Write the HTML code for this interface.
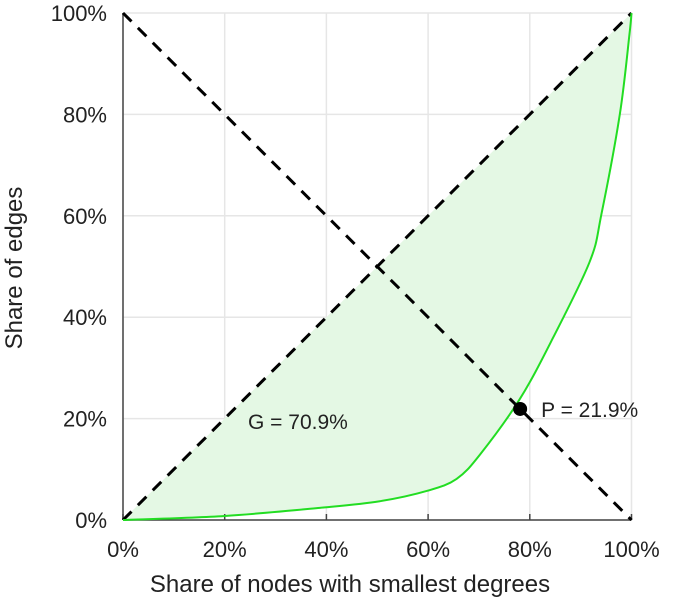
<!DOCTYPE html>
<html><head><meta charset="utf-8"><style>
body{margin:0;background:#fff;}
svg text{font-family:"Liberation Sans",sans-serif;fill:#222;}
</style></head><body>
<svg width="682" height="600">
<g id="grid"></g>
<path id="area" fill="#e4f8e4" stroke="none"/>
<g id="axes"></g>
<line id="eq" stroke="#000" stroke-width="3" stroke-dasharray="12,9"/>
<line id="anti" stroke="#000" stroke-width="3" stroke-dasharray="12,9"/>
<path id="curve" fill="none" stroke="#22dd22" stroke-width="2"/>
<circle id="pt" r="7" fill="#000"/>
<text id="glab" font-size="21">G = 70.9%</text>
<text id="plab" font-size="21">P = 21.9%</text>
<text x="350" y="592" text-anchor="middle" font-size="24">Share of nodes with smallest degrees</text>
<text transform="translate(22,268) rotate(-90)" text-anchor="middle" font-size="24">Share of edges</text>
</svg>
<script>
const curveX=[0,20,38.7,50.5,60,65.6,70.2,78,84.6,91.8,94.1,97.7,99.6,100];
const curveY=[0,0.8,2.4,3.7,5.8,8.1,12.9,23.8,36,51,60.4,80,95.8,100];
const ticks=[0,20,40,60,80,100];
const tickLabels=["0%","20%","40%","60%","80%","100%"];
const pointX=[78.1];const pointY=[21.9];
const gini=[70.9];
const X=v=>123+v*5.085, Y=v=>520-v*5.07;
const ns="http://www.w3.org/2000/svg";
const grid=document.getElementById('grid'),axes=document.getElementById('axes');
function mk(tag,a,p){const e=document.createElementNS(ns,tag);for(const k in a)e.setAttribute(k,a[k]);p.appendChild(e);return e;}
ticks.forEach((t,i)=>{
 let g=mk('line',{x1:X(t),x2:X(t),y1:Y(0),y2:Y(100),stroke:'#e6e6e6','stroke-width':1.5},grid);
 
 
 let h=mk('line',{x1:X(0),x2:X(100),y1:Y(t),y2:Y(t),stroke:'#e6e6e6','stroke-width':1.5},grid);
 
 
 let tx=mk('text',{x:X(t),y:557,'text-anchor':'middle','font-size':22},axes);tx.textContent=tickLabels[i];
 
 
 let ty=mk('text',{x:107,y:Y(t)+8,'text-anchor':'end','font-size':22},axes);ty.textContent=tickLabels[i];
 
 
 let tk=mk('line',{x1:X(t),x2:X(t),y1:Y(0),y2:Y(0)-6,stroke:'#444','stroke-width':1.5},axes);
 
 
});
let xa=mk('line',{x1:X(0),x2:X(100),y1:Y(0),y2:Y(0),stroke:'#444','stroke-width':1.5},axes);


let ya=mk('line',{x1:X(0),x2:X(0),y1:Y(0),y2:Y(100),stroke:'#444','stroke-width':1.5},axes);


const P=curveX.map((x,i)=>[X(x),Y(curveY[i])]);
let d='M'+P[0][0]+','+P[0][1];
for(let i=0;i<P.length-1;i++){
 const p0=P[Math.max(i-1,0)],p1=P[i],p2=P[i+1],p3=P[Math.min(i+2,P.length-1)];
 const c1=[p1[0]+(p2[0]-p0[0])/6,p1[1]+(p2[1]-p0[1])/6];
 const c2=[p2[0]-(p3[0]-p1[0])/6,p2[1]-(p3[1]-p1[1])/6];
 d+='C'+c1+' '+c2+' '+p2;
}
document.getElementById('curve').setAttribute('d',d);
document.getElementById('area').setAttribute('d',d+'L'+X(0)+','+Y(0)+'Z');
const eq=document.getElementById('eq');
eq.setAttribute('x1',X(0));eq.setAttribute('y1',Y(0));eq.setAttribute('x2',X(100));eq.setAttribute('y2',Y(100));
const an=document.getElementById('anti');
an.setAttribute('x1',X(0));an.setAttribute('y1',Y(100));an.setAttribute('x2',X(100));an.setAttribute('y2',Y(0));
const pt=document.getElementById('pt');pt.setAttribute('cx',X(pointX[0]));pt.setAttribute('cy',Y(pointY[0]));
const pl=document.getElementById('plab');pl.setAttribute('x',X(pointX[0])+21);pl.setAttribute('y',Y(pointY[0])+8);
pl.textContent='P = '+pointY[0]+'%';
const gl=document.getElementById('glab');gl.setAttribute('x',248);gl.setAttribute('y',429);
gl.textContent='G = '+gini[0]+'%';
</script>
</body></html>
